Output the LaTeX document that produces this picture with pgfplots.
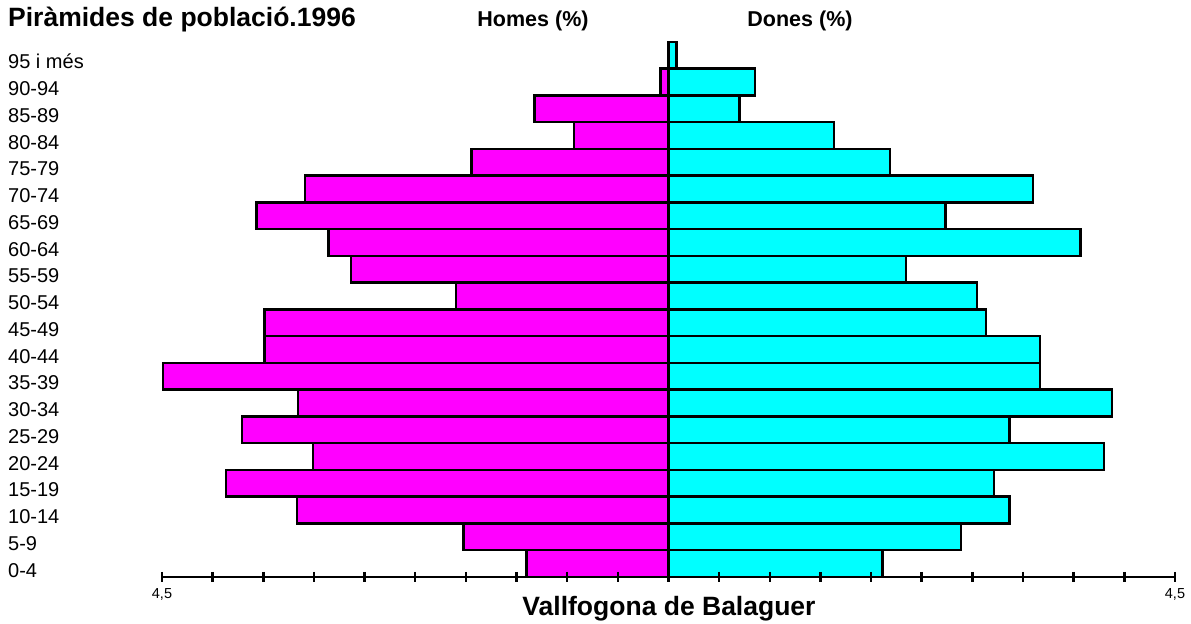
\documentclass[border=0pt]{standalone}
\usepackage{pgfplots}
\pgfplotsset{compat=1.18}
\usepackage{fontspec}
\setmainfont{Liberation Sans}
\definecolor{mag}{RGB}{255,0,255}
\definecolor{cyn}{RGB}{0,255,255}
\tikzset{agelbl/.style={anchor=base west, inner sep=0pt, xshift=-154bp, yshift=-13.5bp, font=\fontsize{20bp}{22bp}\selectfont}}
\begin{document}
\begin{tikzpicture}
\useasboundingbox (0,0) rectangle (1191bp,624bp);
\begin{axis}[
  at={(162bp,47bp)}, anchor=south west,
  scale only axis, width=1013bp, height=535bp,
  xmin=-4.5, xmax=4.5, ymin=-0.5, ymax=19.5,
  axis x line=bottom, axis y line=none,
  x axis line style={-, line width=2.5bp, black},
  xtick align=center,
  xtick={-4.5,-4.05,-3.6,-3.15,-2.7,-2.25,-1.8,-1.35,-0.9,-0.45,0,0.45,0.9,1.35,1.8,2.25,2.7,3.15,3.6,4.05,4.5},
  xticklabels={{4,5},,,,,,,,,,,,,,,,,,,,{4,5}},
  xtick style={line width=2.5bp, black},
  major tick length=10bp,
  xticklabel style={font=\fontsize{14.5bp}{16bp}\selectfont, inner sep=0pt, anchor=base, yshift=-16bp},
  clip=false,
]
\addplot[xbar, bar shift=0pt, bar width=1, fill=mag, draw=black, line width=2.5bp] coordinates {
(-1.26,0) (-1.82,1) (-3.30,2) (-3.93,3) (-3.16,4) (-3.79,5) (-3.29,6) (-4.49,7) (-3.59,8) (-3.59,9)
(-1.89,10) (-2.82,11) (-3.02,12) (-3.66,13) (-3.23,14) (-1.75,15) (-0.84,16) (-1.19,17) (-0.07,18)
};
\addplot[xbar, bar shift=0pt, bar width=1, fill=cyn, draw=black, line width=2.5bp] coordinates {
(1.90,0) (2.60,1) (3.03,2) (2.89,3) (3.87,4) (3.03,5) (3.94,6) (3.30,7) (3.30,8) (2.82,9)
(2.74,10) (2.11,11) (3.66,12) (2.46,13) (3.24,14) (1.97,15) (1.47,16) (0.63,17) (0.77,18) (0.07,19)
};
\addplot[black, line width=2.5bp, mark=|, mark size=5bp, mark options={line width=2.5bp, solid, black}] coordinates {
(-4.5,-0.5) (-4.05,-0.5) (-3.6,-0.5) (-3.15,-0.5) (-2.7,-0.5) (-2.25,-0.5) (-1.8,-0.5) (-1.35,-0.5) (-0.9,-0.5) (-0.45,-0.5) (0,-0.5)
(0.45,-0.5) (0.9,-0.5) (1.35,-0.5) (1.8,-0.5) (2.25,-0.5) (2.7,-0.5) (3.15,-0.5) (3.6,-0.5) (4.05,-0.5) (4.5,-0.5)
};
\node[agelbl] at (axis cs:-4.5,0) {0-4};
\node[agelbl] at (axis cs:-4.5,1) {5-9};
\node[agelbl] at (axis cs:-4.5,2) {10-14};
\node[agelbl] at (axis cs:-4.5,3) {15-19};
\node[agelbl] at (axis cs:-4.5,4) {20-24};
\node[agelbl] at (axis cs:-4.5,5) {25-29};
\node[agelbl] at (axis cs:-4.5,6) {30-34};
\node[agelbl] at (axis cs:-4.5,7) {35-39};
\node[agelbl] at (axis cs:-4.5,8) {40-44};
\node[agelbl] at (axis cs:-4.5,9) {45-49};
\node[agelbl] at (axis cs:-4.5,10) {50-54};
\node[agelbl] at (axis cs:-4.5,11) {55-59};
\node[agelbl] at (axis cs:-4.5,12) {60-64};
\node[agelbl] at (axis cs:-4.5,13) {65-69};
\node[agelbl] at (axis cs:-4.5,14) {70-74};
\node[agelbl] at (axis cs:-4.5,15) {75-79};
\node[agelbl] at (axis cs:-4.5,16) {80-84};
\node[agelbl] at (axis cs:-4.5,17) {85-89};
\node[agelbl] at (axis cs:-4.5,18) {90-94};
\node[agelbl] at (axis cs:-4.5,19) {95 i més};
\end{axis}
\node[anchor=base west, inner sep=0pt, font=\bfseries\fontsize{26.5bp}{28bp}\selectfont] at (8bp,597bp) {Piràmides de població.1996};
\node[anchor=base, inner sep=0pt, font=\bfseries\fontsize{21.5bp}{24bp}\selectfont] at (533bp,597bp) {Homes (\%)};
\node[anchor=base, inner sep=0pt, font=\bfseries\fontsize{21.5bp}{24bp}\selectfont] at (800bp,597bp) {Dones (\%)};
\node[anchor=base, inner sep=0pt, font=\bfseries\fontsize{26.5bp}{28bp}\selectfont] at (669bp,9bp) {Vallfogona de Balaguer};
\end{tikzpicture}
\end{document}
